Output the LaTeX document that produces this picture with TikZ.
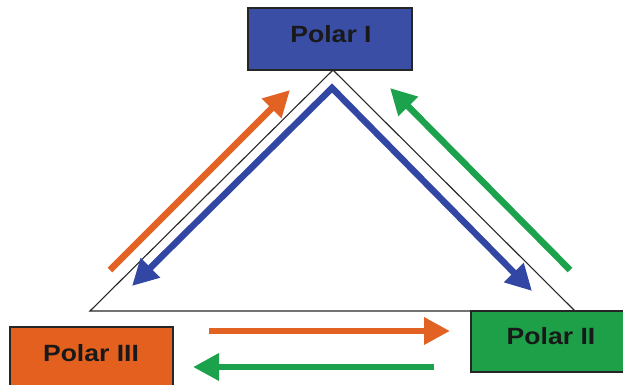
\documentclass[tikz,border=0pt]{standalone}
\usepackage{fontspec}
\newfontfamily\boxfont{Liberation Sans}
\usetikzlibrary{arrows.meta}
\definecolor{pblue}{RGB}{58,78,166}
\definecolor{porange}{RGB}{228,96,30}
\definecolor{pgreen}{RGB}{30,160,72}
\definecolor{aorange}{RGB}{226,98,36}
\definecolor{agreen}{RGB}{28,162,76}
\definecolor{ablue}{RGB}{50,70,164}
\newcommand{\poletxt}[1]{\scalebox{1.13}[1]{#1}}
\tikzset{
  polebox/.style={draw=black!85, line width=1.4pt, inner sep=0pt},
  poletext/.style={font=\boxfont\bfseries\fontsize{23.5}{25}\selectfont, text=black!90, inner sep=0pt},
  flow/.style={line width=6.5pt, -{Triangle[length=26pt,width=26pt]}},
  tri/.style={draw=black!85, line width=1.1pt},
}
\begin{document}
\begin{tikzpicture}[x=1pt,y=-1pt]
\useasboundingbox (0,0) rectangle (623,385);
\clip (0,0) rectangle (623,385);
% triangle
\coordinate (tA) at (333,70);
\coordinate (tB) at (90,311);
\coordinate (tC) at (575,311);
\draw[tri] (tA) -- (tB) -- (tC) -- cycle;
% boxes
\fill[pblue] (248,8) rectangle (412,70);
\draw[polebox] (248,8) rectangle (412,70);
\node[poletext] (p1) at (331,34) {\poletxt{Polar I}};
\fill[pgreen] (471,311) rectangle (640,372);
\draw[polebox] (471,311) rectangle (640,372);
\node[poletext] (p2) at (551,336) {\poletxt{Polar II}};
\fill[porange] (10,327) rectangle (173,400);
\draw[polebox] (10,327) rectangle (173,400);
\node[poletext] (p3) at (91,353) {\poletxt{Polar III}};
% arrow coordinates
\coordinate (oS) at (110,270);
\coordinate (oE) at (290,90);
\coordinate (gS) at (570,270);
\coordinate (gE) at (390,88);
\coordinate (bL) at (132,286);
\coordinate (bA) at (332,88);
\coordinate (bR) at (532,291);
\coordinate (ohS) at (209,331);
\coordinate (ohE) at (450,331);
\coordinate (ghS) at (434,367);
\coordinate (ghE) at (193,367);
% arrows
\draw[flow, aorange] (oS) -- (oE);
\draw[flow, agreen] (gS) -- (gE);
\draw[ablue, line width=6.5pt, line join=miter, {Triangle[length=26pt,width=26pt]}-{Triangle[length=26pt,width=26pt]}] (bL) -- (bA) -- (bR);
\draw[flow, aorange] (ohS) -- (ohE);
\draw[flow, agreen] (ghS) -- (ghE);
\end{tikzpicture}
\end{document}
